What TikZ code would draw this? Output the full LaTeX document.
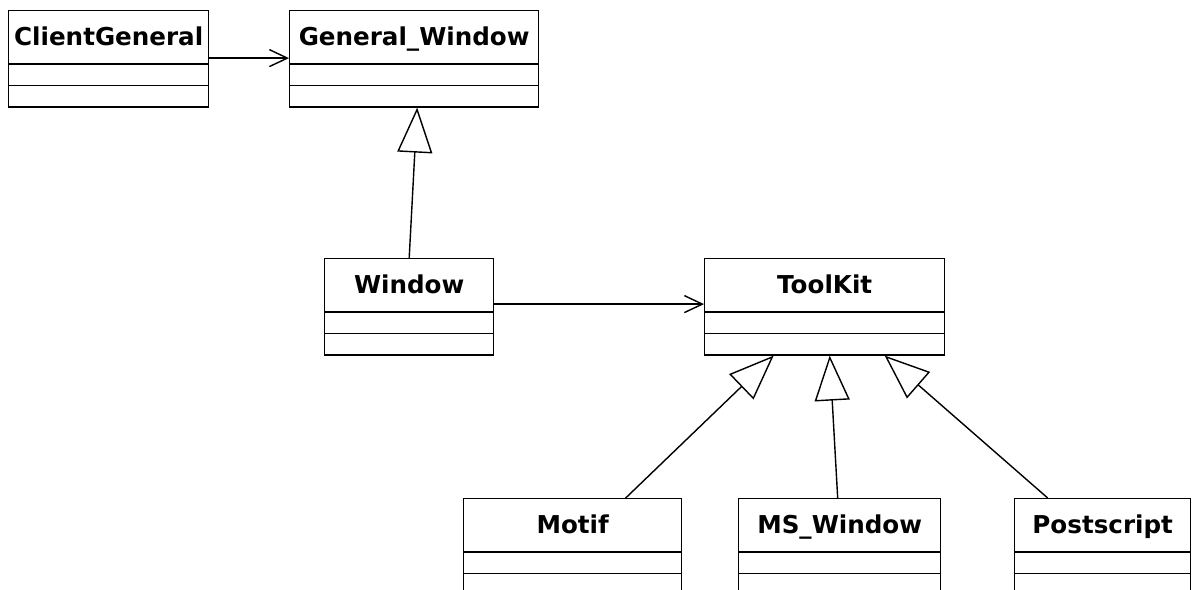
\documentclass[tikz,border=0pt]{standalone}
\usepackage{fontspec}
\setmainfont{DejaVu Sans}
\usetikzlibrary{shapes,arrows.meta,positioning,calc}

\tikzset{
  umlclass/.style={draw, rectangle split, rectangle split parts=3, inner sep=0pt,
    line width=0.8pt, font=\fontsize{14}{16}\selectfont\bfseries, anchor=north west},
  dep/.style={-{Straight Barb[length=0.36cm,width=0.34cm]}, line width=0.8pt},
  inherit/.style={-{Triangle[open,length=0.9cm,width=0.7cm,fill=white]}, line width=0.8pt}
}
\newcommand{\hd}[1]{\rule[-0.36cm]{0pt}{1.04cm}#1}
\newcommand{\cmp}{\rule{0pt}{0.4cm}}

\begin{document}
\begin{tikzpicture}[x=0.02cm, y=-0.02cm]
    \useasboundingbox[fill=white] (0,0) rectangle (1192,589);
    \clip (0,0) rectangle (1192,589);

    % Classes
    \node[umlclass, minimum width=4cm] (cg) at (8,10)
        {\hd{ClientGeneral}\nodepart{two}\cmp\nodepart{three}\cmp};
    \node[umlclass, minimum width=4.98cm] (gw) at (289,10)
        {\hd{General\_Window}\nodepart{two}\cmp\nodepart{three}\cmp};
    \node[umlclass, minimum width=3.38cm] (win) at (324,258)
        {\hd{Window}\nodepart{two}\cmp\nodepart{three}\cmp};
    \node[umlclass, minimum width=4.8cm] (tk) at (704,258)
        {\hd{ToolKit}\nodepart{two}\cmp\nodepart{three}\cmp};
    \node[umlclass, minimum width=4.36cm] (motif) at (463,498)
        {\hd{Motif}\nodepart{two}\cmp\nodepart{three}\cmp};
    \node[umlclass, minimum width=4.04cm] (msw) at (738,498)
        {\hd{MS\_Window}\nodepart{two}\cmp\nodepart{three}\cmp};
    \node[umlclass, minimum width=3.52cm] (ps) at (1014,498)
        {\hd{Postscript}\nodepart{two}\cmp\nodepart{three}\cmp};

    % Associations
    \draw[dep] ([yshift=0.12cm]cg.text split east) -- ([yshift=0.12cm]gw.text split west);
    \draw[dep] ([yshift=0.16cm]win.text split east) -- ([yshift=0.16cm]tk.text split west);

    % Generalizations
    \draw[inherit] (win.north) -- ([xshift=0.06cm]gw.south);
    \draw[inherit] ([xshift=1.06cm]motif.north) -- ([xshift=-1.02cm]tk.south);
    \draw[inherit] ([xshift=-0.04cm]msw.north) -- ([xshift=0.1cm]tk.south);
    \draw[inherit] ([xshift=-1.1cm]ps.north) -- ([xshift=1.2cm]tk.south);
\end{tikzpicture}
\end{document}
